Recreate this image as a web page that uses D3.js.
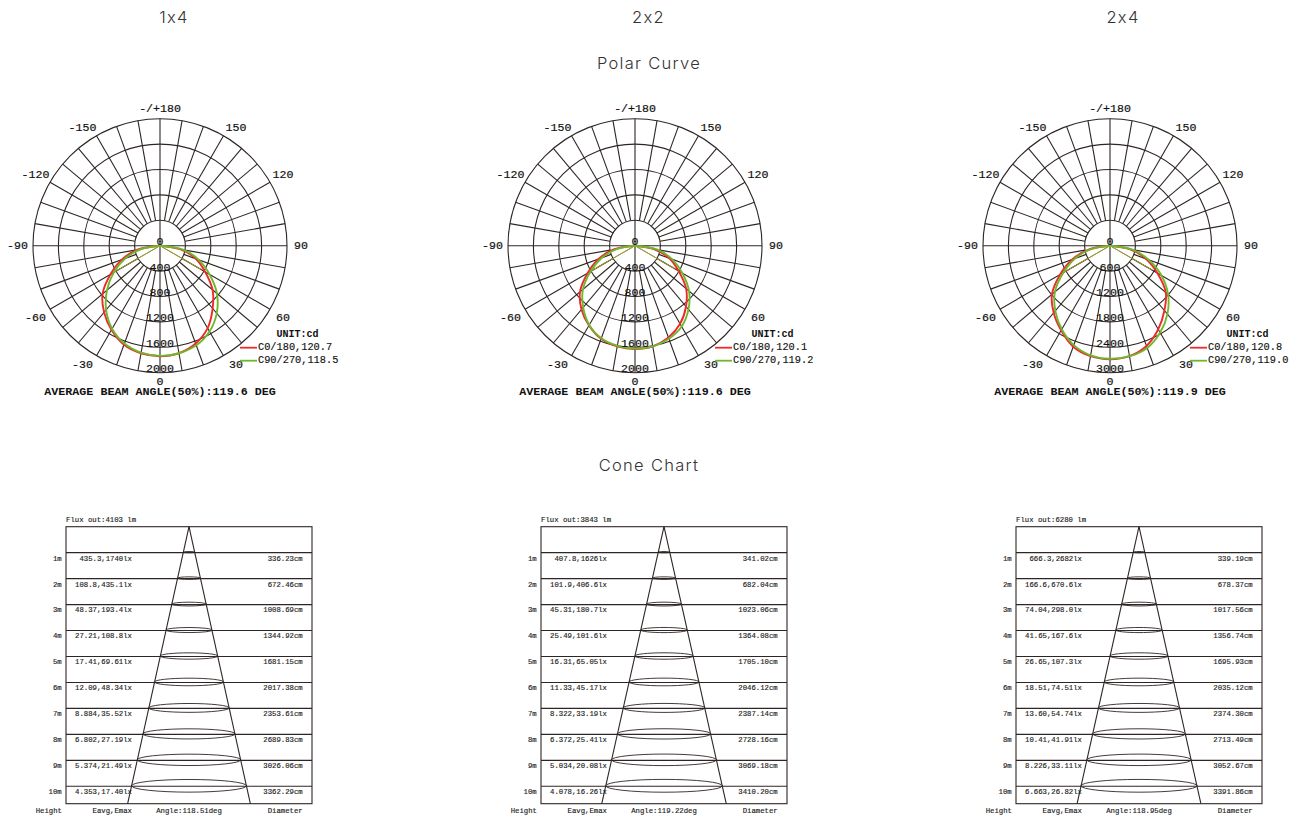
<!DOCTYPE html>
<html><head><meta charset="utf-8">
<script src="https://cdn.jsdelivr.net/npm/d3@7/dist/d3.min.js"></script>
<style>html,body{margin:0;padding:0;background:#fff}svg{display:block}</style></head>
<body><svg id="c" width="1300" height="818"></svg>
<script>
const variants = ["1x4","2x2","2x4"];
const sectionTitles = ["Polar Curve","Cone Chart"];
const angleTicks = [-180,-150,-120,-90,-60,-30,0,30,60,90,120,150];
const angleTickLabels = ["-/+180","-150","-120","-90","-60","-30","0","30","60","90","120","150"];
const curveAngles = [-90,-80,-70,-60,-50,-40,-30,-20,-10,0,10,20,30,40,50,60,70,80,90];
const chordAngles = [-60,60];

const ringTicks = [[0,400,800,1200,1600,2000],[0,400,800,1200,1600,2000],[0,600,1200,1800,2400,3000]];
const redCd = [
 [0,360,640,900,1180,1370,1530,1660,1720,1740,1720,1640,1500,1290,1080,820,600,320,0],
 [0,340,610,860,1130,1310,1450,1560,1610,1626,1610,1540,1420,1250,1050,790,570,300,0],
 [0,500,950,1360,1790,2070,2310,2540,2650,2682,2650,2520,2280,2000,1720,1290,900,470,0]];
const greenCd = [
 [0,300,580,840,1090,1320,1510,1640,1710,1735,1720,1670,1560,1390,1170,900,650,380,0],
 [0,285,555,805,1070,1270,1440,1550,1600,1620,1610,1560,1470,1310,1110,860,620,360,0],
 [0,440,880,1270,1700,2010,2280,2500,2630,2670,2650,2570,2370,2110,1790,1400,970,540,0]];
const redChord = [[810,760],[770,730],[1210,1150]];
const greenChord = [[850,740],[800,710],[1270,1130]];
const redBeam = ["120.7","120.1","120.8"];
const greenBeam = ["118.5","119.2","119.0"];
const avgBeam = ["119.6","119.6","119.9"];

const heights = [1,2,3,4,5,6,7,8,9,10];
const flux = [4103,3843,6280];
const coneAngle = ["118.51","119.22","118.95"];
const eavg = [
 ["435.3","108.8","48.37","27.21","17.41","12.09","8.884","6.802","5.374","4.353"],
 ["407.8","101.9","45.31","25.49","16.31","11.33","8.322","6.372","5.034","4.078"],
 ["666.3","166.6","74.04","41.65","26.65","18.51","13.60","10.41","8.226","6.663"]];
const emax = [
 ["1740","435.1","193.4","108.8","69.61","48.34","35.52","27.19","21.49","17.40"],
 ["1626","406.6","180.7","101.6","65.05","45.17","33.19","25.41","20.08","16.26"],
 ["2682","670.6","298.0","167.6","107.3","74.51","54.74","41.91","33.11","26.82"]];
const diameter = [
 [336.23,672.46,1008.69,1344.92,1681.15,2017.38,2353.61,2689.83,3026.06,3362.29],
 [341.02,682.04,1023.06,1364.08,1705.10,2046.12,2387.14,2728.16,3069.18,3410.20],
 [339.19,678.37,1017.56,1356.74,1695.93,2035.12,2374.30,2713.49,3052.67,3391.86]];

const INK = "#2e2624", RED = "#ee2a2a", GREEN = "#6fb82e";
const MONO = "'Liberation Mono','Courier New',monospace";
const svg = d3.select("#c");
const rad = d => d * Math.PI / 180;

// headers
const head = svg.append("g").attr("font-family","Inter,Lato,sans-serif").attr("font-weight",300).attr("fill","#333")
  .attr("text-anchor","middle").attr("dominant-baseline","central").attr("font-size",16.5).attr("letter-spacing",1.3);
head.selectAll(".v").data(variants).join("text").attr("class","v")
  .attr("x",(d,i)=>174+i*474.5).attr("y",17).text(d=>d);
head.selectAll(".s").data(sectionTitles).join("text").attr("class","s")
  .attr("x",649).attr("y",(d,i)=>i?465:63).text(d=>d);

const R = 127;
// label radius differs slightly by axis in the source drawing
const labelRx = a => { const s = Math.abs(Math.sin(rad(a))); return s>0.9 ? 141 : s>0.7 ? 142 : 152; };
const labelRy = a => { if (a===0) return 135.5; const c = Math.abs(Math.cos(rad(a))); return c>0.7 ? 137 : 143; };
variants.forEach((_,k)=>{
  const g = svg.append("g").attr("transform",`translate(${160+k*475},245.7)`);
  const rings = ringTicks[k];
  const r = d3.scaleLinear().domain([0,rings[rings.length-1]]).range([0,R]);
  const gg = g.append("g").attr("stroke",INK).attr("fill","none").attr("stroke-width",1.1);
  gg.selectAll("circle").data(rings.slice(1)).join("circle").attr("r",d=>r(d));
  const pt = (a,v)=>[Math.sin(rad(a))*v, Math.cos(rad(a))*v]; // 0 deg points down, positive to the right
  gg.selectAll("line").data(d3.range(0,360,10)).join("line")
    .attr("x1",d=>pt(d,d%90===0?0:r(rings[1]))[0]).attr("y1",d=>pt(d,d%90===0?0:r(rings[1]))[1])
    .attr("x2",d=>pt(d,R)[0]).attr("y2",d=>pt(d,R)[1]);

  const path = d3.line().x(d=>pt(d[0],r(d[1]))[0]).y(d=>pt(d[0],r(d[1]))[1]).curve(d3.curveCatmullRom);
  const draw = (vals,chord,col)=>{
    chord.forEach((v,i)=>g.append("line").attr("x1",0).attr("y1",0)
      .attr("x2",pt(chordAngles[i],r(v))[0]).attr("y2",pt(chordAngles[i],r(v))[1])
      .attr("stroke",col).attr("stroke-width",0.9));
    g.append("path").attr("d",path(curveAngles.map((a,i)=>[a,vals[i]])))
      .attr("fill","none").attr("stroke",col).attr("stroke-width",1.9);
  };
  draw(redCd[k],redChord[k],RED);
  draw(greenCd[k],greenChord[k],GREEN);

  const t = g.append("g").attr("font-family",MONO).attr("fill","#111").attr("font-size",11.6)
    .attr("stroke","#111").attr("stroke-width",0.2)
    .attr("text-anchor","middle").attr("dominant-baseline","central");
  t.selectAll(".ang").data(angleTicks).join("text").attr("class","ang")
    .attr("x",d=>Math.sin(rad(d))*labelRx(d)-(d<0&&d>-180?1.5:0)).attr("y",d=>Math.cos(rad(d))*labelRy(d))
    .text((d,i)=>angleTickLabels[i]);
  t.selectAll(".ring").data(rings).join("text").attr("class","ring")
    .attr("x",0).attr("y",d=>r(d)-4).text(d=>d);

  g.append("text").attr("x",137.5).attr("y",88.5).attr("font-family",MONO).attr("font-weight","bold")
    .attr("font-size",10).attr("fill","#111").attr("text-anchor","middle").attr("dominant-baseline","central").text("UNIT:cd");
  [["C0/180,"+redBeam[k],RED],["C90/270,"+greenBeam[k],GREEN]].forEach((d,i)=>{
    g.append("line").attr("x1",80).attr("x2",97).attr("y1",102+i*13).attr("y2",102+i*13).attr("stroke",d[1]).attr("stroke-width",1.8);
    g.append("text").attr("x",98).attr("y",101.5+i*13).attr("font-family",MONO).attr("font-size",10.3).attr("fill","#111")
      .attr("stroke","#111").attr("stroke-width",0.15).attr("dominant-baseline","central").text(d[0]);
  });
  g.append("text").attr("x",0).attr("y",146.5).attr("text-anchor","middle").attr("font-family",MONO).attr("font-weight","bold")
    .attr("font-size",11.7).attr("fill","#111").attr("dominant-baseline","central")
    .text(`AVERAGE BEAM ANGLE(50%):${avgBeam[k]} DEG`);
});

// cone charts
const y = d3.scaleLinear().domain([0,10]).range([526.7,786.3]);
const w = d3.scaleLinear().domain([0,3400]).range([0,58.15]);
const yBottom = 803.7;
variants.forEach((_,k)=>{
  const dx = k*475, cx = 189;
  const g = svg.append("g").attr("transform",`translate(${dx},0)`);
  const maxD = diameter[k][9];
  g.append("rect").attr("x",66).attr("y",y(0)).attr("width",246).attr("height",yBottom-y(0))
    .attr("fill","none").attr("stroke",INK).attr("stroke-width",1.1);
  g.selectAll(".row").data(heights).join("line").attr("class","row")
    .attr("x1",66).attr("x2",312).attr("y1",d=>y(d)).attr("y2",d=>y(d)).attr("stroke",INK).attr("stroke-width",1.1);
  g.selectAll(".el").data(heights).join("ellipse").attr("class","el")
    .attr("cx",cx).attr("cy",d=>y(d)-0.5).attr("rx",(d,i)=>w(diameter[k][i])).attr("ry",(d,i)=>w(diameter[k][i])*0.11)
    .attr("fill","none").attr("stroke",INK).attr("stroke-width",0.9);
  const edge = w(maxD)*(yBottom-y(0))/(y(10)-y(0));
  [-1,1].forEach(s=>g.append("line").attr("x1",cx).attr("y1",y(0)).attr("x2",cx+s*edge).attr("y2",yBottom)
    .attr("stroke",INK).attr("stroke-width",1.1));
  const T = g.append("g").attr("font-family",MONO).attr("font-size",7.3).attr("fill","#222").attr("stroke","#222").attr("stroke-width",0.15)
    .attr("dominant-baseline","central");
  T.append("text").attr("x",66).attr("y",520).text(`Flux out:${flux[k]} lm`);
  T.selectAll(".h").data(heights).join("text").attr("class","h").attr("x",61.7).attr("y",d=>y(d)+5.9)
    .attr("text-anchor","end").text(d=>d+"m");
  T.selectAll(".e").data(heights).join("text").attr("class","e").attr("x",132).attr("y",d=>y(d)+5.9)
    .attr("text-anchor","end").text((d,i)=>`${eavg[k][i]},${emax[k][i]}lx`);
  T.selectAll(".d").data(heights).join("text").attr("class","d").attr("x",302.7).attr("y",d=>y(d)+5.9)
    .attr("text-anchor","end").text((d,i)=>diameter[k][i].toFixed(2)+"cm");
  [["Height",62,"end"],["Eavg,Emax",132,"end"],[`Angle:${coneAngle[k]}deg`,189,"middle"],["Diameter",302.7,"end"]].forEach(d=>
    T.append("text").attr("x",d[1]).attr("y",811).attr("text-anchor",d[2]).text(d[0]));
});
</script></body></html>
